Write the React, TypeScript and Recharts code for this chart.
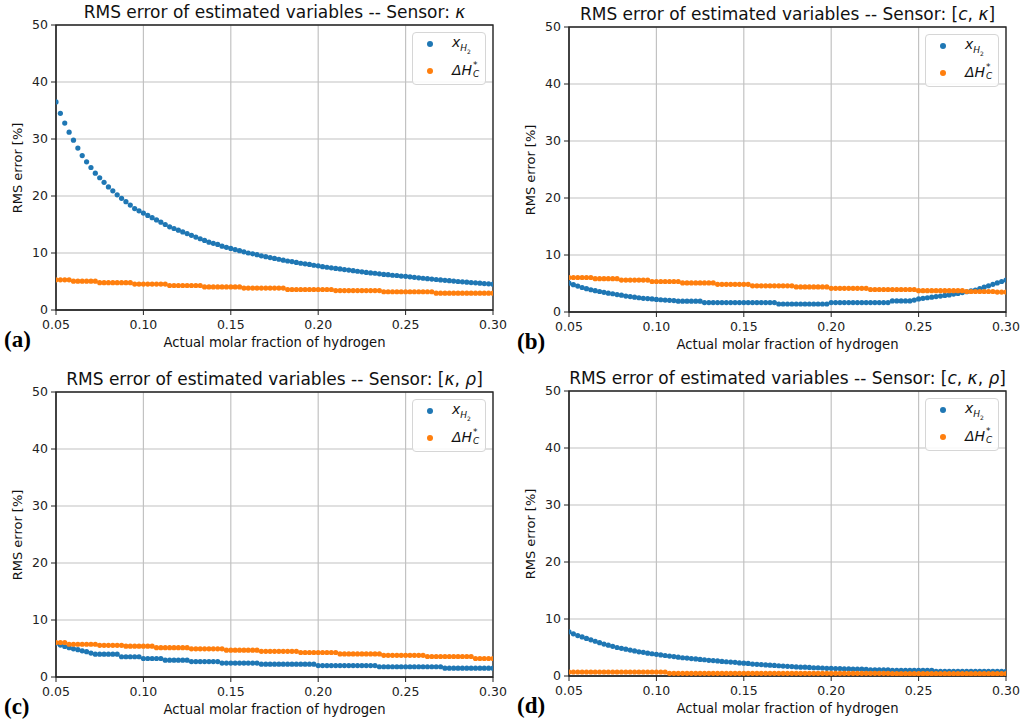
import React from "react";
import {
  ScatterChart,
  Scatter,
  XAxis,
  YAxis,
  CartesianGrid,
  ReferenceArea,
} from "recharts";

// molar fraction grid shared by all four panels
const X = [
  0.05, 0.0525, 0.055, 0.0575, 0.06, 0.0625, 0.065, 0.0675, 0.07, 0.0725,
  0.075, 0.0775, 0.08, 0.0825, 0.085, 0.0875, 0.09, 0.0925, 0.095, 0.0975,
  0.1, 0.1025, 0.105, 0.1075, 0.11, 0.1125, 0.115, 0.1175, 0.12, 0.1225,
  0.125, 0.1275, 0.13, 0.1325, 0.135, 0.1375, 0.14, 0.1425, 0.145, 0.1475,
  0.15, 0.1525, 0.155, 0.1575, 0.16, 0.1625, 0.165, 0.1675, 0.17, 0.1725,
  0.175, 0.1775, 0.18, 0.1825, 0.185, 0.1875, 0.19, 0.1925, 0.195, 0.1975,
  0.2, 0.2025, 0.205, 0.2075, 0.21, 0.2125, 0.215, 0.2175, 0.22, 0.2225,
  0.225, 0.2275, 0.23, 0.2325, 0.235, 0.2375, 0.24, 0.2425, 0.245, 0.2475,
  0.25, 0.2525, 0.255, 0.2575, 0.26, 0.2625, 0.265, 0.2675, 0.27, 0.2725,
  0.275, 0.2775, 0.28, 0.2825, 0.285, 0.2875, 0.29, 0.2925, 0.295, 0.2975,
  0.3,
];

// (a) Sensor: kappa
const A_XH2 = [
  36.5, 34.5, 32.8, 31.2, 29.8, 28.4, 27.1, 26.0, 25.0, 24.0,
  23.2, 22.4, 21.6, 20.9, 20.2, 19.6, 19.0, 18.4, 17.8, 17.4,
  17.0, 16.6, 16.2, 15.8, 15.4, 15.0, 14.6, 14.3, 14.0, 13.7,
  13.4, 13.1, 12.8, 12.5, 12.2, 11.9, 11.7, 11.5, 11.2, 11.0,
  10.8, 10.6, 10.4, 10.2, 10.0, 9.85, 9.7, 9.5, 9.35, 9.2,
  9.05, 8.9, 8.75, 8.6, 8.5, 8.35, 8.2, 8.1, 8.0, 7.85,
  7.75, 7.6, 7.5, 7.4, 7.3, 7.2, 7.1, 7.0, 6.9, 6.8,
  6.7, 6.6, 6.5, 6.45, 6.35, 6.25, 6.2, 6.1, 6.05, 5.95,
  5.9, 5.82, 5.73, 5.65, 5.57, 5.5, 5.42, 5.35, 5.28, 5.21,
  5.14, 5.07, 5.0, 4.94, 4.88, 4.82, 4.76, 4.7, 4.64, 4.59,
  4.53,
];
const A_DHC = [
  5.3, 5.3, 5.3, 5.3, 5.05, 5.05, 5.05, 5.05, 5.05, 5.05,
  4.8, 4.8, 4.8, 4.8, 4.8, 4.8, 4.8, 4.8, 4.55, 4.55,
  4.55, 4.55, 4.55, 4.55, 4.55, 4.55, 4.3, 4.3, 4.3, 4.3,
  4.3, 4.3, 4.3, 4.3, 4.05, 4.05, 4.05, 4.05, 4.05, 4.05,
  4.05, 4.05, 4.05, 3.85, 3.85, 3.85, 3.85, 3.85, 3.85, 3.85,
  3.85, 3.85, 3.85, 3.6, 3.6, 3.6, 3.6, 3.6, 3.6, 3.6,
  3.6, 3.6, 3.6, 3.6, 3.4, 3.4, 3.4, 3.4, 3.4, 3.4,
  3.4, 3.4, 3.4, 3.4, 3.4, 3.2, 3.2, 3.2, 3.2, 3.2,
  3.2, 3.2, 3.2, 3.2, 3.2, 3.2, 3.2, 2.95, 2.95, 2.95,
  2.95, 2.95, 2.95, 2.95, 2.95, 2.95, 2.95, 2.95, 2.95, 2.95,
  2.95,
];

// (b) Sensor: [c, kappa]
const B_XH2 = [
  5.05, 4.8, 4.55, 4.3, 4.1, 3.9, 3.75, 3.6, 3.45, 3.3,
  3.2, 3.05, 2.95, 2.8, 2.7, 2.6, 2.5, 2.4, 2.35, 2.3,
  2.2, 2.15, 2.1, 2.05, 2.0, 1.9, 1.9, 1.9, 1.9, 1.9,
  1.9, 1.65, 1.65, 1.65, 1.65, 1.65, 1.65, 1.65, 1.65, 1.65,
  1.65, 1.65, 1.65, 1.65, 1.65, 1.65, 1.65, 1.65, 1.4, 1.4,
  1.4, 1.4, 1.4, 1.4, 1.4, 1.4, 1.4, 1.4, 1.4, 1.4,
  1.65, 1.65, 1.65, 1.65, 1.65, 1.65, 1.65, 1.65, 1.65, 1.65,
  1.65, 1.65, 1.65, 1.65, 1.95, 1.95, 1.95, 1.95, 1.95, 2.1,
  2.3, 2.4, 2.5, 2.6, 2.7, 2.8, 2.9, 3.0, 3.15, 3.25,
  3.4, 3.55, 3.7, 3.85, 4.1, 4.35, 4.6, 4.85, 5.1, 5.35,
  5.6,
];
const B_DHC = [
  6.05, 6.05, 6.05, 6.05, 6.05, 6.05, 5.85, 5.85, 5.85, 5.85,
  5.85, 5.85, 5.6, 5.6, 5.6, 5.6, 5.6, 5.6, 5.6, 5.35,
  5.35, 5.35, 5.35, 5.35, 5.35, 5.35, 5.1, 5.1, 5.1, 5.1,
  5.1, 5.1, 5.1, 5.1, 4.85, 4.85, 4.85, 4.85, 4.85, 4.85,
  4.85, 4.85, 4.6, 4.6, 4.6, 4.6, 4.6, 4.6, 4.6, 4.6,
  4.6, 4.6, 4.4, 4.4, 4.4, 4.4, 4.4, 4.4, 4.4, 4.4,
  4.15, 4.15, 4.15, 4.15, 4.15, 4.15, 4.15, 4.15, 4.15, 3.95,
  3.95, 3.95, 3.95, 3.95, 3.95, 3.95, 3.95, 3.95, 3.95, 3.95,
  3.75, 3.75, 3.75, 3.75, 3.75, 3.75, 3.75, 3.75, 3.75, 3.75,
  3.75, 3.6, 3.6, 3.6, 3.6, 3.6, 3.6, 3.6, 3.5, 3.5,
  3.5,
];

// (c) Sensor: [kappa, rho]
const C_XH2 = [
  5.9, 5.6, 5.35, 5.15, 4.95, 4.8, 4.6, 4.45, 4.2, 4.0,
  4.0, 4.0, 4.0, 4.0, 4.0, 3.55, 3.55, 3.55, 3.55, 3.55,
  3.25, 3.25, 3.25, 3.25, 3.25, 2.95, 2.95, 2.95, 2.95, 2.95,
  2.95, 2.7, 2.7, 2.7, 2.7, 2.7, 2.7, 2.7, 2.45, 2.45,
  2.45, 2.45, 2.45, 2.45, 2.45, 2.45, 2.45, 2.25, 2.25, 2.25,
  2.25, 2.25, 2.25, 2.25, 2.25, 2.25, 2.25, 2.25, 2.25, 2.25,
  2.0, 2.0, 2.0, 2.0, 2.0, 2.0, 2.0, 2.0, 2.0, 2.0,
  2.0, 2.0, 2.0, 2.0, 1.8, 1.8, 1.8, 1.8, 1.8, 1.8,
  1.8, 1.8, 1.8, 1.8, 1.8, 1.8, 1.8, 1.8, 1.8, 1.55,
  1.55, 1.55, 1.55, 1.55, 1.55, 1.55, 1.55, 1.55, 1.55, 1.55,
  1.55,
];
const C_DHC = [
  6.05, 6.05, 6.05, 5.75, 5.75, 5.75, 5.75, 5.75, 5.75, 5.75,
  5.55, 5.55, 5.55, 5.55, 5.55, 5.55, 5.4, 5.4, 5.4, 5.4,
  5.4, 5.4, 5.4, 5.15, 5.15, 5.15, 5.15, 5.15, 5.15, 5.15,
  5.15, 4.95, 4.95, 4.95, 4.95, 4.95, 4.95, 4.95, 4.95, 4.7,
  4.7, 4.7, 4.7, 4.7, 4.7, 4.7, 4.7, 4.5, 4.5, 4.5,
  4.5, 4.5, 4.5, 4.5, 4.5, 4.5, 4.3, 4.3, 4.3, 4.3,
  4.3, 4.3, 4.3, 4.3, 4.3, 4.05, 4.05, 4.05, 4.05, 4.05,
  4.05, 4.05, 4.05, 4.05, 4.05, 3.8, 3.8, 3.8, 3.8, 3.8,
  3.8, 3.8, 3.8, 3.8, 3.8, 3.6, 3.6, 3.6, 3.6, 3.6,
  3.6, 3.6, 3.6, 3.6, 3.6, 3.6, 3.25, 3.25, 3.25, 3.25,
  3.25,
];

// (d) Sensor: [c, kappa, rho]
const D_XH2 = [
  7.75, 7.4, 7.1, 6.85, 6.6, 6.35, 6.1, 5.85, 5.6, 5.4,
  5.2, 5.0, 4.85, 4.7, 4.55, 4.4, 4.25, 4.15, 4.0, 3.9,
  3.8, 3.7, 3.6, 3.5, 3.4, 3.3, 3.2, 3.15, 3.05, 3.0,
  2.9, 2.85, 2.75, 2.7, 2.65, 2.55, 2.5, 2.45, 2.4, 2.3,
  2.25, 2.2, 2.1, 2.05, 2.0, 1.95, 1.9, 1.85, 1.8, 1.75,
  1.7, 1.65, 1.6, 1.55, 1.55, 1.5, 1.45, 1.45, 1.4, 1.35,
  1.35, 1.3, 1.3, 1.25, 1.25, 1.2, 1.2, 1.2, 1.15, 1.1,
  1.1, 1.1, 1.1, 1.1, 1.0, 1.0, 1.0, 1.0, 1.0, 1.0,
  1.0, 1.0, 1.0, 1.0, 0.8, 0.8, 0.8, 0.8, 0.8, 0.8,
  0.8, 0.8, 0.8, 0.8, 0.8, 0.8, 0.8, 0.8, 0.8, 0.8,
  0.8,
];
const D_DHC = [
  0.7, 0.7, 0.7, 0.7, 0.7, 0.7, 0.7, 0.7, 0.7, 0.7,
  0.7, 0.7, 0.7, 0.7, 0.7, 0.7, 0.7, 0.7, 0.7, 0.7,
  0.7, 0.7, 0.7, 0.45, 0.45, 0.45, 0.45, 0.45, 0.45, 0.45,
  0.45, 0.45, 0.45, 0.45, 0.45, 0.45, 0.45, 0.45, 0.45, 0.45,
  0.45, 0.45, 0.45, 0.45, 0.45, 0.45, 0.45, 0.45, 0.45, 0.45,
  0.45, 0.45, 0.45, 0.45, 0.45, 0.45, 0.45, 0.45, 0.45, 0.45,
  0.45, 0.45, 0.45, 0.45, 0.45, 0.45, 0.45, 0.45, 0.45, 0.45,
  0.45, 0.45, 0.45, 0.45, 0.4, 0.4, 0.4, 0.4, 0.4, 0.4,
  0.4, 0.4, 0.4, 0.4, 0.4, 0.4, 0.4, 0.4, 0.4, 0.4,
  0.4, 0.4, 0.4, 0.4, 0.4, 0.4, 0.4, 0.4, 0.4, 0.4,
  0.4,
];

const X_TICKS = [0.05, 0.1, 0.15, 0.2, 0.25, 0.3];
const Y_TICKS = [0, 10, 20, 30, 40, 50];
const SENSORS = ["κ", "[c, κ]", "[κ, ρ]", "[c, κ, ρ]"];
const LETTERS = ["(a)", "(b)", "(c)", "(d)"];
const TITLE = "RMS error of estimated variables -- Sensor: ";
const X_LABEL = "Actual molar fraction of hydrogen";
const Y_LABEL = "RMS error [%]";

const BLUE = "#1f77b4";
const ORANGE = "#ff7f0e";
const FONT = "'DejaVu Sans', sans-serif";
const INK = "#222";

const PLOT_W = 437;
const PLOT_H = 285;

// top-left corner of each plot area on the page
const PANELS = [
  { left: 56, top: 25, xh2: A_XH2, dhc: A_DHC },
  { left: 569, top: 27, xh2: B_XH2, dhc: B_DHC },
  { left: 56, top: 392, xh2: C_XH2, dhc: C_DHC },
  { left: 569, top: 391, xh2: D_XH2, dhc: D_DHC },
];

const dot = (color: string) => (p: any) =>
  <circle cx={p.cx} cy={p.cy} r={2.6} fill={color} />;

function Sensor({ text }: { text: string }) {
  return (
    <>
      {text.split("").map((ch, i) =>
        /[a-zκρ]/.test(ch) ? <i key={i}>{ch}</i> : <span key={i}>{ch}</span>
      )}
    </>
  );
}

function Legend({ left, top }: { left: number; top: number }) {
  const row = { position: "absolute" as const, left: 0, height: 22, width: 74, display: "flex", alignItems: "center" };
  const swatch = (c: string) => ({
    position: "absolute" as const,
    left: 14,
    top: 8,
    width: 6,
    height: 6,
    borderRadius: 3,
    background: c,
  });
  return (
    <div
      style={{
        position: "absolute",
        left: left + PLOT_W - 81,
        top: top + 7,
        width: 74,
        height: 53,
        boxSizing: "border-box",
        border: "1px solid #d6d6d6",
        borderRadius: 4,
        background: "rgba(255,255,255,0.85)",
        fontSize: 14,
        fontFamily: FONT,
        color: "#111",
      }}
    >
      <div style={{ ...row, top: 0 }}>
        <span style={swatch(BLUE)} />
        <span style={{ position: "absolute", left: 39, top: 1, whiteSpace: "nowrap" }}>
          <i>x</i>
          <sub style={{ fontSize: 9 }}>
            <i>H</i>
            <sub style={{ fontSize: 6 }}>2</sub>
          </sub>
        </span>
      </div>
      <div style={{ ...row, top: 27 }}>
        <span style={swatch(ORANGE)} />
        <span style={{ position: "absolute", left: 39, top: 1, whiteSpace: "nowrap", display: "flex", alignItems: "center" }}>
          <i>ΔH</i>
          <span style={{ display: "inline-flex", flexDirection: "column", fontSize: 9, lineHeight: "9px", marginLeft: 1 }}>
            <span>*</span>
            <i>C</i>
          </span>
        </span>
      </div>
    </div>
  );
}

function Panel({ idx }: { idx: number }) {
  const { left, top, xh2, dhc } = PANELS[idx];
  const blue = X.map((x, i) => ({ x, y: xh2[i] }));
  const orange = X.map((x, i) => ({ x, y: dhc[i] }));
  const tickStyle = { fill: INK, fontSize: 12.5, fontFamily: FONT };
  return (
    <>
      <div style={{ position: "absolute", left: left - 56, top: top - 25 }}>
        <ScatterChart
          width={512}
          height={362}
          margin={{ top: 25, right: 512 - 56 - PLOT_W, bottom: 362 - 25 - PLOT_H - 22, left: 24 }}
        >
          <CartesianGrid stroke="#c2c2c2" strokeWidth={1.2} />
          <XAxis
            type="number"
            dataKey="x"
            domain={[0.05, 0.3]}
            ticks={X_TICKS}
            interval={0}
            allowDataOverflow
            tickFormatter={(v: number) => v.toFixed(2)}
            tick={tickStyle}
            tickSize={5}
            tickMargin={5}
            height={22}
            stroke={INK}
          />
          <YAxis
            type="number"
            dataKey="y"
            domain={[0, 50]}
            ticks={Y_TICKS}
            interval={0}
            allowDataOverflow
            tick={tickStyle}
            tickSize={5}
            tickMargin={3}
            width={32}
            stroke={INK}
          />
          <ReferenceArea x1={0.05} x2={0.3} y1={0} y2={50} fill="none" stroke={INK} strokeWidth={1.3} />
          <Scatter data={blue} shape={dot(BLUE)} isAnimationActive={false} />
          <Scatter data={orange} shape={dot(ORANGE)} isAnimationActive={false} />
        </ScatterChart>
      </div>
      <div
        style={{
          position: "absolute",
          left: left - 40,
          width: PLOT_W + 80,
          top: top - 24,
          height: 22,
          lineHeight: "22px",
          textAlign: "center",
          fontSize: 17,
          fontFamily: FONT,
          color: "#111",
          whiteSpace: "nowrap",
        }}
      >
        {TITLE}
        <Sensor text={SENSORS[idx]} />
      </div>
      <div
        style={{
          position: "absolute",
          left,
          width: PLOT_W,
          top: top + PLOT_H + 24,
          height: 18,
          lineHeight: "18px",
          textAlign: "center",
          fontSize: 13.2,
          fontFamily: FONT,
          color: "#111",
          whiteSpace: "nowrap",
        }}
      >
        {X_LABEL}
      </div>
      <div
        style={{
          position: "absolute",
          left: left - 39,
          top: top + PLOT_H / 2,
          transform: "translate(-50%, -50%) rotate(-90deg)",
          fontSize: 13,
          fontFamily: FONT,
          color: "#111",
          whiteSpace: "nowrap",
        }}
      >
        {Y_LABEL}
      </div>
      <div
        style={{
          position: "absolute",
          left: left - 52,
          top: top + PLOT_H + 17,
          fontSize: 23,
          fontWeight: "bold",
          fontFamily: "'Liberation Serif', 'Times New Roman', serif",
          color: "#000",
          lineHeight: "26px",
        }}
      >
        {LETTERS[idx]}
      </div>
      <Legend left={left} top={top} />
    </>
  );
}

export default function App() {
  return (
    <div
      style={{
        position: "absolute",
        left: 0,
        top: 0,
        width: 1024,
        height: 723,
        background: "#fff",
        overflow: "hidden",
      }}
    >
      {PANELS.map((_, i) => (
        <Panel key={i} idx={i} />
      ))}
    </div>
  );
}
